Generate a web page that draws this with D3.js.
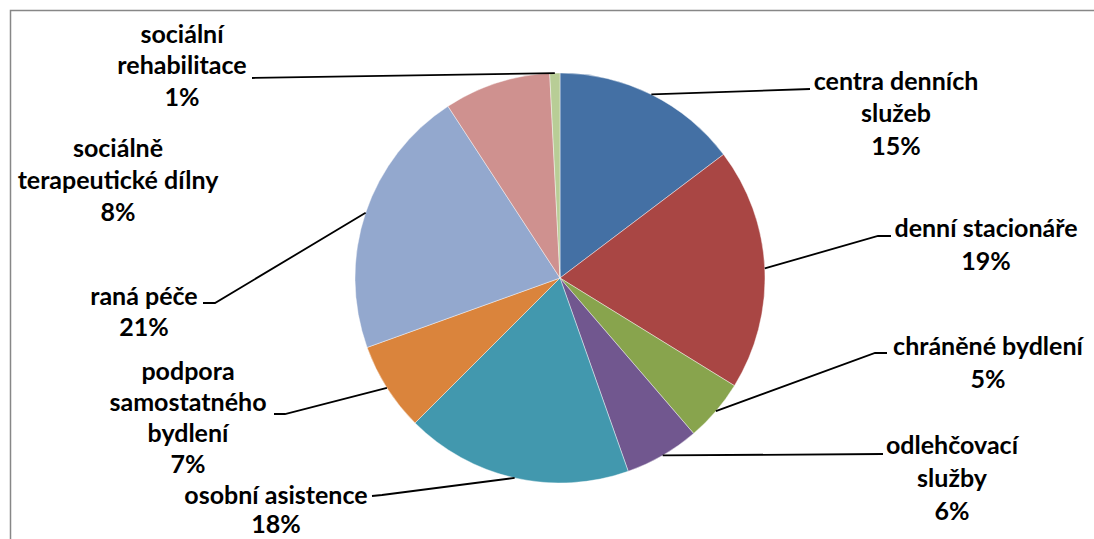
<!DOCTYPE html>
<html>
<head>
<meta charset="utf-8">
<script src="https://cdn.jsdelivr.net/npm/d3@7"></script>
<style>
  html, body { margin: 0; padding: 0; background: #fff; }
  svg { display: block; }
  text { font-family: Lato, "Open Sans", sans-serif; font-weight: 700; fill: #000; }
</style>
</head>
<body>
<svg id="chart" width="1094" height="539"></svg>
<script>
// ---- data ----
const categories = [
  "centra denních služeb",
  "denní stacionáře",
  "chráněné bydlení",
  "odlehčovací služby",
  "osobní asistence",
  "podpora samostatného bydlení",
  "raná péče",
  "sociálně terapeutické dílny",
  "sociální rehabilitace"
];
const labelLines = [
  ["centra denních", "služeb"],
  ["denní stacionáře"],
  ["chráněné bydlení"],
  ["odlehčovací", "služby"],
  ["osobní asistence"],
  ["podpora", "samostatného", "bydlení"],
  ["raná péče"],
  ["sociálně", "terapeutické dílny"],
  ["sociální", "rehabilitace"]
];
const values = [14.7, 19.1, 4.9, 5.9, 17.9, 7.0, 21.3, 8.4, 0.8];
const colors = ["#4470a4", "#a94644", "#88a44d", "#71578f", "#4298ae", "#da843c", "#93a8ce", "#cf918f", "#b8cd96"];

// ---- layout ----
const cx = 560, cy = 278, R = 205;
const fontSize = 25;
// label anchor: [centre x, centre y of first line, line gap]
const labelPos = [[896, 82, 32.5], [986, 229, 33], [988, 347, 33], [952, 446, 33], [276, 496, 29.5],
                  [188, 372, 31.3], [144, 297, 31.5], [118, 149, 32], [182, 35, 31.5]];
// leader knee points (null = no leader); last point is where the line meets the label
const leaders = [
  [[810, 89]],
  [[878, 236], [891, 236]],
  [[875, 353], [887, 353]],
  [[883, 454]],
  [[382, 495], [372, 496]],
  [[285, 414], [274, 414]],
  [[215, 303], [203, 303]],
  null,
  [[252, 78]]
];

const svg = d3.select("#chart");

// chart frame (only top/left visible)
svg.append("rect")
  .attr("x", 10.5).attr("y", 10.5)
  .attr("width", 1100).attr("height", 560)
  .attr("fill", "none").attr("stroke", "#878787").attr("stroke-width", 1.5);

const total = d3.sum(values);
const pie = d3.pie().sort(null).value(d => d);
const arcs = pie(values);
const arc = d3.arc().innerRadius(0).outerRadius(R);

const g = svg.append("g").attr("transform", `translate(${cx},${cy})`);
g.selectAll("path.slice")
  .data(arcs)
  .join("path")
  .attr("class", "slice")
  .attr("d", arc)
  .attr("fill", (d, i) => colors[i])
  .attr("stroke", "#ffffff")
  .attr("stroke-width", 0.6)
  .attr("stroke-opacity", 0.7);

// leader lines
arcs.forEach((a, i) => {
  if (!leaders[i]) return;
  const mid = (a.startAngle + a.endAngle) / 2;
  const start = [cx + R * Math.sin(mid), cy - R * Math.cos(mid)];
  const pts = [start].concat(leaders[i]);
  svg.append("path")
    .attr("d", d3.line()(pts))
    .attr("fill", "none")
    .attr("stroke", "#000")
    .attr("stroke-width", 1.8);
});

// labels
arcs.forEach((a, i) => {
  const lines = labelLines[i].concat([Math.round(values[i] / total * 100) + "%"]);
  const [lx, ly, gap] = labelPos[i];
  const t = svg.append("text")
    .attr("text-anchor", "middle")
    .attr("font-size", fontSize);
  lines.forEach((ln, k) => {
    t.append("tspan")
      .attr("x", lx)
      .attr("y", ly + k * gap + fontSize * 0.3)
      .text(ln);
  });
});
</script>
</body>
</html>
